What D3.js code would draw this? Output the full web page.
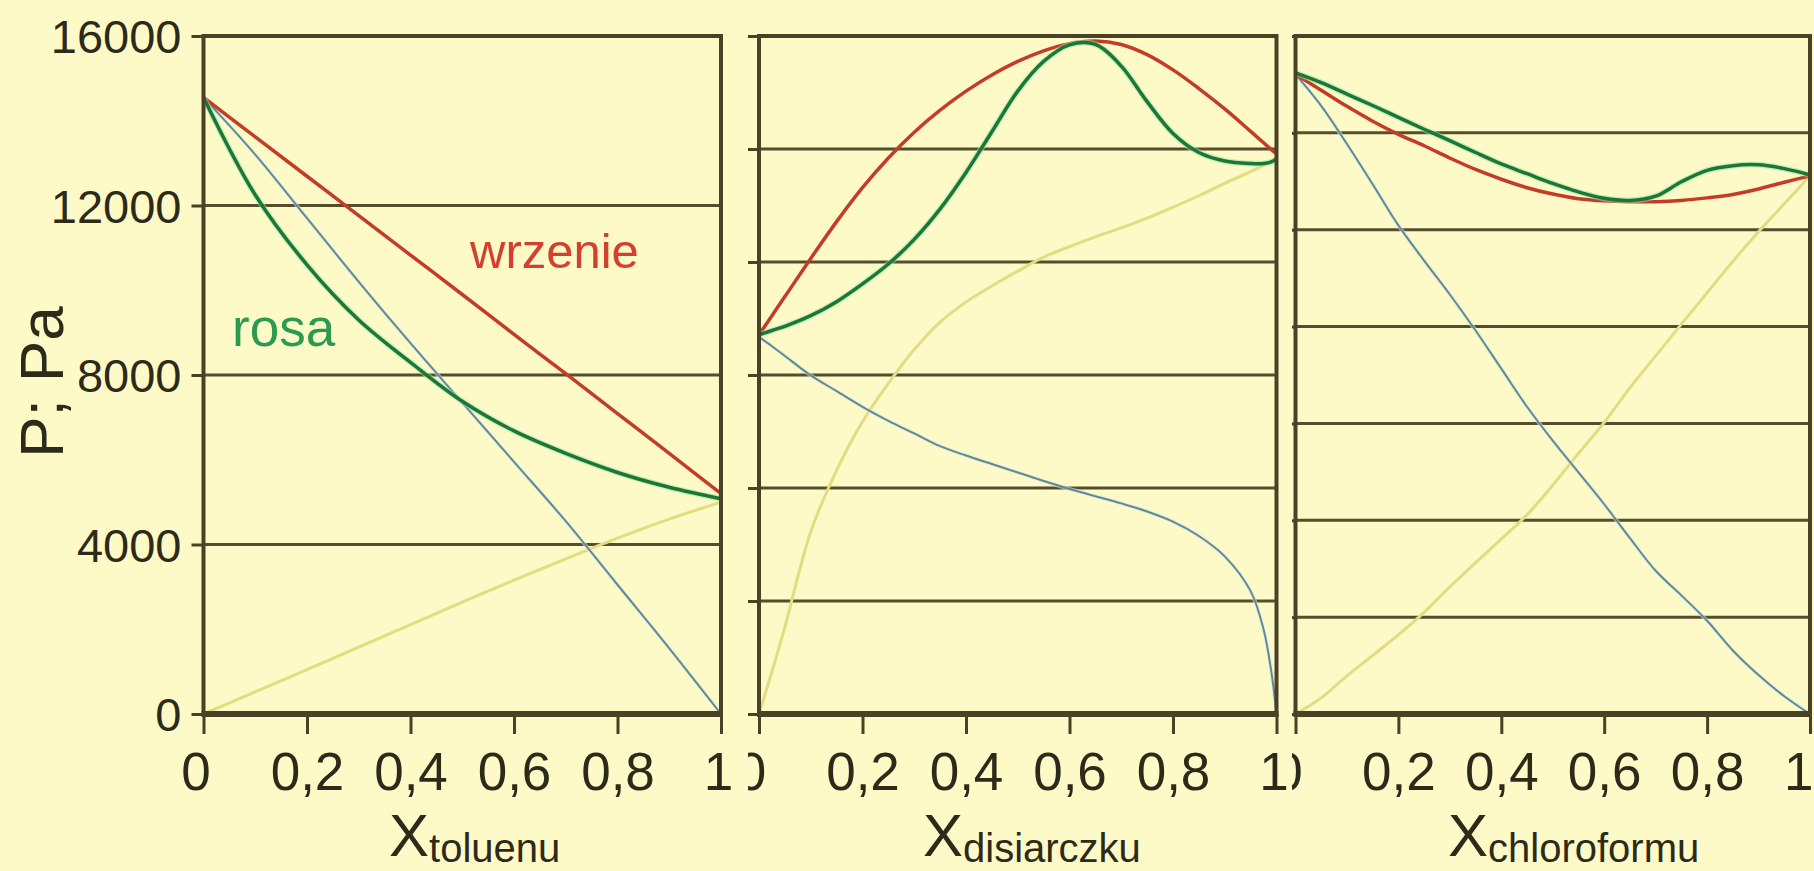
<!DOCTYPE html>
<html>
<head>
<meta charset="utf-8">
<script src="https://cdn.jsdelivr.net/npm/d3@7"></script>
<style>
  html, body { margin: 0; padding: 0; background: #fdfac7; }
  svg { display: block; font-family: Arial, "Liberation Sans", sans-serif; }
</style>
</head>
<body>
<svg id="chart" width="1814" height="871"></svg>
<script>
// ---- data ----
const panelNames = ['toluenu', 'disiarczku', 'chloroformu'];
const xTicks = [0, 0.2, 0.4, 0.6, 0.8, 1];
const yTickLabels = [0, 4000, 8000, 12000, 16000];
const gridDivisions = [4, 6, 7];

// toluene panel
const tolX     = [0, 0.1, 0.2, 0.3, 0.4, 0.5, 0.6, 0.7, 0.8, 0.9, 1];
const tolBoil  = [14550, 13620, 12690, 11760, 10830, 9900, 8960, 8030, 7090, 6150, 5200];
const tolDew   = [14550, 12250, 10600, 9300, 8300, 7380, 6680, 6150, 5700, 5350, 5080];
const tolPart1 = [14550, 13200, 11700, 10200, 8750, 7350, 5950, 4550, 3050, 1550, 0];
const tolPart2 = [0, 520, 1050, 1580, 2110, 2640, 3160, 3660, 4150, 4600, 5000];

// CS2 panel
const csX     = [0, 0.025, 0.05, 0.1, 0.15, 0.2, 0.25, 0.3, 0.35, 0.4, 0.45, 0.5, 0.55, 0.6, 0.65, 0.7, 0.75, 0.8, 0.85, 0.9, 0.95, 0.975, 0.99, 1];
const csBoil  = [8950, 9400, 9850, 10750, 11620, 12420, 13120, 13730, 14250, 14700, 15080, 15400, 15650, 15820, 15880, 15800, 15560, 15200, 14760, 14280, 13750, 13480, 13320, 13220];
const csDew   = [8950, 9050, 9150, 9400, 9730, 10150, 10620, 11200, 11920, 12780, 13740, 14700, 15400, 15790, 15800, 15290, 14450, 13700, 13250, 13050, 12990, 12990, 13030, 13100];
const csPart1 = [8900, 8680, 8450, 7990, 7620, 7250, 6920, 6620, 6320, 6100, 5900, 5700, 5500, 5310, 5140, 4970, 4780, 4540, 4200, 3720, 2900, 2000, 1000, 0];
const csPart2 = [0, 1000, 2050, 4300, 5750, 6900, 7800, 8600, 9250, 9720, 10100, 10450, 10780, 11030, 11260, 11470, 11700, 11960, 12230, 12520, 12800, 12950, 13040, 13100];

// chloroform panel
const chX     = [0, 0.05, 0.1, 0.15, 0.2, 0.25, 0.3, 0.35, 0.4, 0.45, 0.5, 0.55, 0.6, 0.65, 0.7, 0.75, 0.8, 0.85, 0.9, 0.95, 1];
const chBoil  = [15100, 14720, 14340, 13990, 13680, 13410, 13120, 12850, 12620, 12420, 12270, 12160, 12110, 12090, 12090, 12120, 12180, 12260, 12390, 12550, 12700];
const chDew   = [15130, 14900, 14630, 14360, 14080, 13800, 13530, 13250, 12980, 12750, 12520, 12320, 12170, 12120, 12220, 12560, 12830, 12940, 12960, 12870, 12720];
const chPart1 = [15100, 14350, 13450, 12500, 11530, 10700, 9900, 9050, 8150, 7250, 6450, 5700, 4950, 4150, 3380, 2800, 2200, 1500, 920, 420, 0];
const chPart2 = [0, 380, 900, 1380, 1870, 2400, 3000, 3570, 4130, 4700, 5400, 6150, 6880, 7700, 8450, 9200, 9940, 10680, 11380, 12040, 12700];

const panelData = [
  {xs: tolX, boil: tolBoil, dew: tolDew, p1: tolPart1, p2: tolPart2},
  {xs: csX, boil: csBoil, dew: csDew, p1: csPart1, p2: csPart2},
  {xs: chX, boil: chBoil, dew: chDew, p1: chPart1, p2: chPart2}
];

// ---- layout ----
const plotTop = 36, plotBottom = 714;
const panelBox = [
  {left: 203.5, right: 721, clipLeft: 0, titleX: 389},
  {left: 759, right: 1276.5, clipLeft: 748, titleX: 923},
  {left: 1295.5, right: 1810, clipLeft: 1292, titleX: 1448}
];
const ink = '#2e2a1a';
const gridColor = '#564d2f';
const frameColor = '#4a4226';

const svg = d3.select('#chart');
svg.append('rect').attr('width', 1814).attr('height', 871).attr('fill', '#fdfac7');

const y = d3.scaleLinear().domain([0, 16000]).range([plotBottom, plotTop]);
const fmt = d => String(d).replace('.', ',');

panelBox.forEach((box, i) => {
  const d = panelData[i];
  const x = d3.scaleLinear().domain([0, 1]).range([box.left, box.right]);

  // each panel is cut at its left edge like in the picture
  const clipId = 'clip' + i;
  svg.append('clipPath').attr('id', clipId)
    .append('rect')
    .attr('x', box.clipLeft).attr('y', 0)
    .attr('width', 1814 - box.clipLeft).attr('height', 871);
  const g = svg.append('g').attr('clip-path', `url(#${clipId})`);

  // horizontal grid + outward ticks on the left
  const gridVals = d3.range(gridDivisions[i] + 1).map(k => 16000 * k / gridDivisions[i]);
  const yAxis = d3.axisLeft(y).tickValues(gridVals).tickSize(12).tickPadding(10)
    .tickFormat(v => (i === 0 && yTickLabels.includes(v)) ? v : '');
  const ya = g.append('g').attr('transform', `translate(${box.left},0)`).call(yAxis);
  ya.select('.domain').remove();
  ya.selectAll('line').attr('stroke', frameColor).attr('stroke-width', 3);
  ya.selectAll('text').attr('fill', ink).attr('font-size', 47).attr('dy', '0.36em');

  g.append('g').selectAll('line')
    .data(gridVals.slice(1, -1))
    .join('line')
    .attr('x1', box.left).attr('x2', box.right)
    .attr('y1', v => y(v)).attr('y2', v => y(v))
    .attr('stroke', gridColor).attr('stroke-width', 3);

  // x axis
  const xAxis = d3.axisBottom(x).tickValues(xTicks).tickSize(20).tickPadding(18).tickFormat(fmt);
  const xa = g.append('g').attr('transform', `translate(0,${plotBottom})`).call(xAxis);
  xa.select('.domain').remove();
  xa.selectAll('line').attr('stroke', frameColor).attr('stroke-width', 3);
  xa.selectAll('text').attr('fill', ink).attr('font-size', 53);
  // end labels sit a little left of their ticks in the original
  xa.selectAll('.tick').filter(v => v === 0).select('text').attr('x', -8);
  xa.selectAll('.tick').filter(v => v === 1).select('text')
    .attr('x', i === 2 ? 3 : -3)
    .attr('text-anchor', i === 2 ? 'end' : 'middle');

  // curves
  const line = arr => d3.line()
    .x((_, k) => x(d.xs[k]))
    .y(v => y(v))
    .curve(d3.curveCatmullRom.alpha(0.5))(arr);

  g.append('path').attr('d', line(d.p2)).attr('fill', 'none')
    .attr('stroke', '#e4dc82').attr('stroke-width', 3);
  g.append('path').attr('d', line(d.p1)).attr('fill', 'none')
    .attr('stroke', '#c9eef0').attr('stroke-width', 4).attr('opacity', 0.6);
  g.append('path').attr('d', line(d.p1)).attr('fill', 'none')
    .attr('stroke', '#6a878e').attr('stroke-width', 2);
  g.append('path').attr('d', line(d.boil)).attr('fill', 'none')
    .attr('stroke', '#c43c28').attr('stroke-width', 3.5);
  g.append('path').attr('d', line(d.dew)).attr('fill', 'none')
    .attr('stroke', '#8fe8ae').attr('stroke-width', 6).attr('opacity', 0.55);
  g.append('path').attr('d', line(d.dew)).attr('fill', 'none')
    .attr('stroke', '#1f7634').attr('stroke-width', 3.5);

  // frame
  g.append('rect')
    .attr('x', box.left).attr('y', plotTop)
    .attr('width', box.right - box.left).attr('height', plotBottom - plotTop)
    .attr('fill', 'none').attr('stroke', frameColor).attr('stroke-width', 4);
  g.append('line')
    .attr('x1', box.left - 2).attr('x2', box.right + 2)
    .attr('y1', plotBottom).attr('y2', plotBottom)
    .attr('stroke', frameColor).attr('stroke-width', 6);

  // axis title X_sub
  const t = svg.append('text').attr('x', box.titleX).attr('y', 856).attr('fill', ink);
  t.append('tspan').attr('font-size', 60).text('X');
  t.append('tspan').attr('font-size', 40).attr('dy', 6).text(panelNames[i]);
});

// y axis title
svg.append('text')
  .attr('transform', 'translate(63,382) rotate(-90)')
  .attr('text-anchor', 'middle')
  .attr('font-size', 62).attr('fill', ink)
  .text('P; Pa');

// curve labels in the first panel
svg.append('text').attr('x', 470).attr('y', 268)
  .attr('font-size', 49).attr('fill', '#d2402f').text('wrzenie');
svg.append('text').attr('x', 232).attr('y', 346)
  .attr('font-size', 53).attr('fill', '#2a9a50').text('rosa');
</script>
</body>
</html>
